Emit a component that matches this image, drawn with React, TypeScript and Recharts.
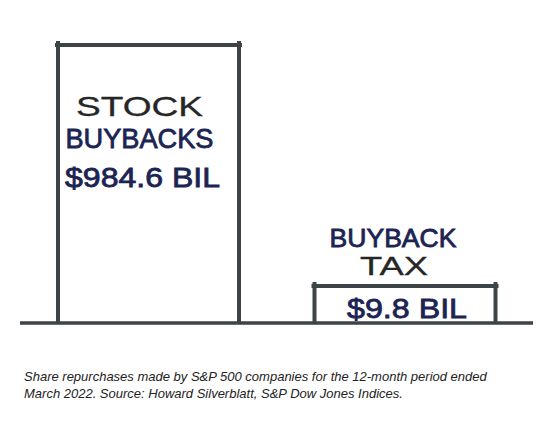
import React from 'react';
import { BarChart, Bar, XAxis, YAxis, ReferenceLine } from 'recharts';

// ---- data ----
const categories = ['Stock buybacks', 'Buyback tax'];
const amountsBil = [984.6, 9.8];
// heights the bars are drawn at in the sketch (same units as the axis; not to scale)
const sketchHeights = [984.6, 131];
const titleLines = [['STOCK', 'BUYBACKS'], ['BUYBACK', 'TAX']];
const caption = [
  'Share repurchases made by S&P 500 companies for the 12-month period ended',
  'March 2022. Source: Howard Silverblatt, S&P Dow Jones Indices.',
];

const data = categories.map((c, i) => ({
  name: c,
  drawn: sketchHeights[i],
  amount: amountsBil[i],
}));

const OUTLINE = '#3c4447';
const NAVY = '#1b2452';
const INK = '#262626';
const FONT = '"Liberation Sans", Arial, sans-serif';

// per-bar label styling (offsets relative to bar centre / top)
const labelStyles = [
  [
    { dx: -9, dy: 71, len: 127, color: INK, size: 28, sw: 0.3 },
    { dx: -9, dy: 103, len: 148, color: NAVY, size: 28, sw: 0.8 },
    { dx: -6, dy: 142, len: 155, color: NAVY, size: 28, sw: 0.8 },
  ],
  [
    { dx: -12, dy: -39, len: 127, color: NAVY, size: 25, sw: 0.8 },
    { dx: -11, dy: -11, len: 68, color: INK, size: 25, sw: 0.3 },
    { dx: 2, dy: 32, len: 120, color: NAVY, size: 28, sw: 0.8 },
  ],
];

const SketchBar = (props: any) => {
  const { x, y, width, height, index, payload } = props;
  const bottom = y + height;
  const left = x;
  const right = x + width;
  const lines = [...titleLines[index], `$${payload.amount} BIL`];
  const cx = x + width / 2;
  return (
    <g>
      <line x1={left} y1={y - 4} x2={left} y2={bottom} stroke={OUTLINE} strokeWidth={4} />
      <line x1={right} y1={y - 4} x2={right} y2={bottom} stroke={OUTLINE} strokeWidth={4} />
      <line x1={left - 3} y1={y} x2={right + 3} y2={y} stroke={OUTLINE} strokeWidth={4} />
      {lines.map((t, i) => {
        const s = labelStyles[index][i];
        return (
          <text
            key={i}
            x={cx + s.dx}
            y={y + s.dy}
            textAnchor="middle"
            fontFamily={FONT}
            fontSize={s.size}
            fill={s.color}
            stroke={s.color}
            strokeWidth={s.sw}
            textLength={s.len}
            lengthAdjust="spacingAndGlyphs"
          >
            {t}
          </text>
        );
      })}
    </g>
  );
};

export default function App() {
  return (
    <div style={{ position: 'absolute', left: 0, top: 0, width: 560, height: 437, background: '#fff' }}>
      <BarChart
        width={560}
        height={437}
        data={data}
        margin={{ top: 45, right: 27, bottom: 114, left: 20 }}
        barSize={181}
      >
        <XAxis dataKey="name" hide />
        <YAxis hide domain={[0, 984.6]} />
        <Bar dataKey="drawn" isAnimationActive={false} shape={<SketchBar />} />
        <ReferenceLine y={0} stroke={OUTLINE} strokeWidth={3.5} ifOverflow="visible" />
      </BarChart>
      <div
        style={{
          position: 'absolute',
          left: 24,
          top: 368,
          fontFamily: '"Liberation Sans", Arial, sans-serif',
          fontStyle: 'italic',
          fontSize: 13,
          lineHeight: '17px',
          color: '#222',
          whiteSpace: 'nowrap',
        }}
      >
        {caption.map((c, i) => (
          <div key={i}>{c}</div>
        ))}
      </div>
    </div>
  );
}
